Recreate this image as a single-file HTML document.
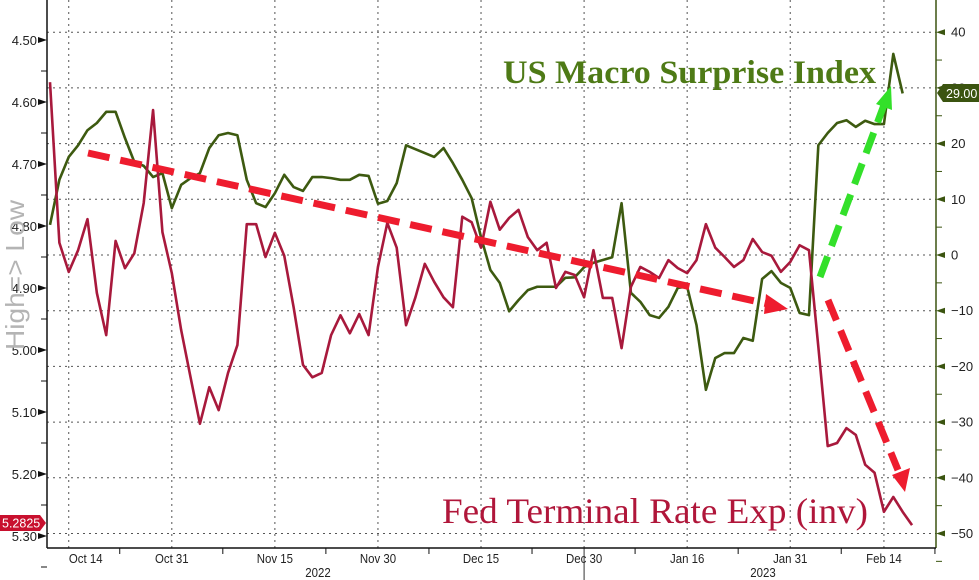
<!DOCTYPE html>
<html><head><meta charset="utf-8">
<style>
html,body{margin:0;padding:0;background:#fff;}
svg{display:block;font-family:"Liberation Sans",sans-serif;}
</style></head>
<body>
<svg id="chart" width="979" height="580" viewBox="0 0 979 580" xmlns="http://www.w3.org/2000/svg">
<g id="grid"></g>
<g id="axes"></g>
<g id="series"></g>
<text x="503" y="83" font-family="Liberation Serif, serif" font-weight="bold" font-size="33" fill="#4e7a16" textLength="373" lengthAdjust="spacingAndGlyphs">US Macro Surprise Index</text>
<text x="442" y="523" font-family="Liberation Serif, serif" font-size="36" fill="#b0163a" textLength="426" lengthAdjust="spacingAndGlyphs">Fed Terminal Rate Exp (inv)</text>
<text transform="translate(24,275) rotate(-90)" text-anchor="middle" font-size="26" fill="#b4b4b4" textLength="150" lengthAdjust="spacingAndGlyphs">High=&gt; Low</text>
<g stroke-linecap="butt">
<line x1="88" y1="153" x2="768" y2="304" stroke="#ee1c2e" stroke-width="7" stroke-dasharray="22,11"/>
<polygon points="766,294 788,309 764,314" fill="#ee1c2e"/>
<line x1="828" y1="300" x2="898" y2="470" stroke="#ee1c2e" stroke-width="7" stroke-dasharray="22,11"/>
<polygon points="892,475 910,468 905,492" fill="#ee1c2e"/>
<line x1="820" y1="277" x2="884" y2="105" stroke="#33e02a" stroke-width="7" stroke-dasharray="22,11"/>
<polygon points="876,104 892,110 891,86" fill="#33e02a"/>
</g>
<g>
<polygon points="0,515 40,515 46,523 40,531 0,531" fill="#c8102e"/>
<text x="2" y="527.5" font-size="12.5" fill="#fff">5.2825</text>
</g>
<g>
<polygon points="943,84 979,84 979,102 943,102 937,93" fill="#3b5410"/>
<text x="946" y="98" font-size="12.5" fill="#fff">29.00</text>
</g>
</svg>
<script>
const fedValues = [4.568,4.827,4.874,4.839,4.789,4.908,4.976,4.824,4.868,4.844,4.763,4.613,4.810,4.876,4.968,5.044,5.119,5.060,5.097,5.037,4.992,4.797,4.797,4.850,4.811,4.848,4.931,5.024,5.044,5.037,4.976,4.944,4.973,4.942,4.976,4.866,4.795,4.835,4.960,4.915,4.861,4.890,4.915,4.931,4.785,4.794,4.835,4.761,4.806,4.787,4.774,4.818,4.839,4.827,4.900,4.874,4.879,4.915,4.839,4.916,4.916,4.997,4.898,4.866,4.874,4.884,4.855,4.868,4.876,4.855,4.797,4.835,4.850,4.866,4.855,4.821,4.842,4.848,4.874,4.858,4.831,4.839,4.995,5.155,5.150,5.126,5.137,5.185,5.198,5.261,5.237,5.261,5.2825];
const surpriseValues = [5.4,13.5,17.6,19.7,22.4,23.7,25.7,25.7,21.0,16.7,16.0,14.0,14.7,8.4,12.6,13.8,14.7,19.2,21.5,21.9,21.5,13.5,9.3,8.6,11.1,14.4,12.2,11.5,14.0,14.0,13.8,13.5,13.5,14.4,14.2,9.2,9.7,12.9,19.7,19.0,18.3,17.6,19.2,16.5,13.5,10.2,3.2,-2.7,-5.0,-10.1,-8.1,-6.3,-5.7,-5.7,-5.7,-4.1,-4.0,-2.2,-1.4,-0.9,-0.4,9.3,-6.8,-8.4,-10.8,-11.3,-9.3,-5.9,-5.7,-12.6,-24.2,-18.5,-17.6,-17.6,-14.9,-15.4,-4.3,-2.9,-5.0,-5.9,-10.4,-10.8,19.7,21.9,23.7,24.2,23.0,24.1,23.5,23.5,36.1,29.0];
const leftTicks = ["4.50","4.60","4.70","4.80","4.90","5.00","5.10","5.20","5.30"];
const rightTicks = [40,30,20,10,0,-10,-20,-30,-40,-50];
const dateLabels = ["Oct 14","Oct 31","Nov 15","Nov 30","Dec 15","Dec 30","Jan 16","Jan 31","Feb 14"];
const dateIndex = [2,13,24,35,46,57,68,79,89];
const yearLabels = ["2022","2023"];

const NS="http://www.w3.org/2000/svg";
const PL=47, PR=936, PB=548;
function xIdx(i){return 50+i*9.37;}
function yL(v){return 40+(v-4.5)*620;}
function yR(v){return 255-v*5.57;}
function mk(tag,attrs,parent){const e=document.createElementNS(NS,tag);for(const k in attrs)e.setAttribute(k,attrs[k]);parent.appendChild(e);return e;}
const grid=document.getElementById('grid'), axes=document.getElementById('axes'), series=document.getElementById('series');

rightTicks.forEach(v=>{
  const y=yR(v);
  const g=mk('line',{x1:PL,x2:PR,y1:y,y2:y,stroke:'#555','stroke-width':1,'stroke-dasharray':'2,4'},grid);
  
  
  mk('polygon',{points:`${PR},${y} ${PR+9},${y-3} ${PR+9},${y+3}`,fill:'#3b5410'},axes);
  const t=mk('text',{x:PR+15,y:y+4.5,'font-size':13,fill:'#222'},axes);
  t.textContent=(v<0?'\u2212'+(-v):String(v));
  
  
  mk('line',{x1:PR,x2:PR+6,y1:y+27.85,y2:y+27.85,stroke:'#3b5410','stroke-width':1},axes);
});
leftTicks.forEach(s=>{
  const y=yL(parseFloat(s));
  mk('polygon',{points:`${PL},${y} ${PL-9},${y-3} ${PL-9},${y+3}`,fill:'#111'},axes);
  const t=mk('text',{x:PL-10,y:y+5,'font-size':13,fill:'#222','text-anchor':'end'},axes);
  t.textContent=s;
  
  
  mk('line',{x1:PL-6,x2:PL,y1:y+31,y2:y+31,stroke:'#111','stroke-width':1},axes);
});
dateLabels.forEach((d,k)=>{
  const x=xIdx(dateIndex[k]);
  const g=mk('line',{x1:x,x2:x,y1:0,y2:PB,stroke:'#555','stroke-width':1,'stroke-dasharray':'2,4'},grid);
  
  
  const lx=(k===0?x+17:x);
  const t=mk('text',{x:lx,y:563,'font-size':13,fill:'#222','text-anchor':'middle',transform:`translate(${lx*0.12},0) scale(0.88,1)`},axes);
  t.textContent=d;
  
  
  mk('line',{x1:x+51,x2:x+51,y1:PB,y2:PB+6,stroke:'#111','stroke-width':1},axes);
});
[[318,0],[763,1]].forEach(([x,k])=>{
  const t=mk('text',{x:x,y:577,'font-size':13,fill:'#222','text-anchor':'middle',transform:`translate(${x*0.12},0) scale(0.88,1)`},axes);
  t.textContent=yearLabels[k];
  
  
});
mk('line',{x1:xIdx(57),x2:xIdx(57),y1:PB,y2:580,stroke:'#333','stroke-width':1},axes);
const la=mk('line',{x1:PL,x2:PL,y1:0,y2:PB,stroke:'#111','stroke-width':1.5},axes);


const ra=mk('line',{x1:PR,x2:PR,y1:0,y2:PB,stroke:'#3b5410','stroke-width':1.5},axes);


const xa=mk('line',{x1:PL,x2:PR,y1:PB,y2:PB,stroke:'#111','stroke-width':1.5},axes);



const gp=mk('polyline',{points:surpriseValues.map((v,i)=>xIdx(i)+','+yR(v)).join(' '),fill:'none',stroke:'#3d5a10','stroke-width':2.6,'stroke-linejoin':'round'},series);


const rp=mk('polyline',{points:fedValues.map((v,i)=>xIdx(i)+','+yL(v)).join(' '),fill:'none',stroke:'#a8193c','stroke-width':2.6,'stroke-linejoin':'round'},series);


</script>
</body></html>
